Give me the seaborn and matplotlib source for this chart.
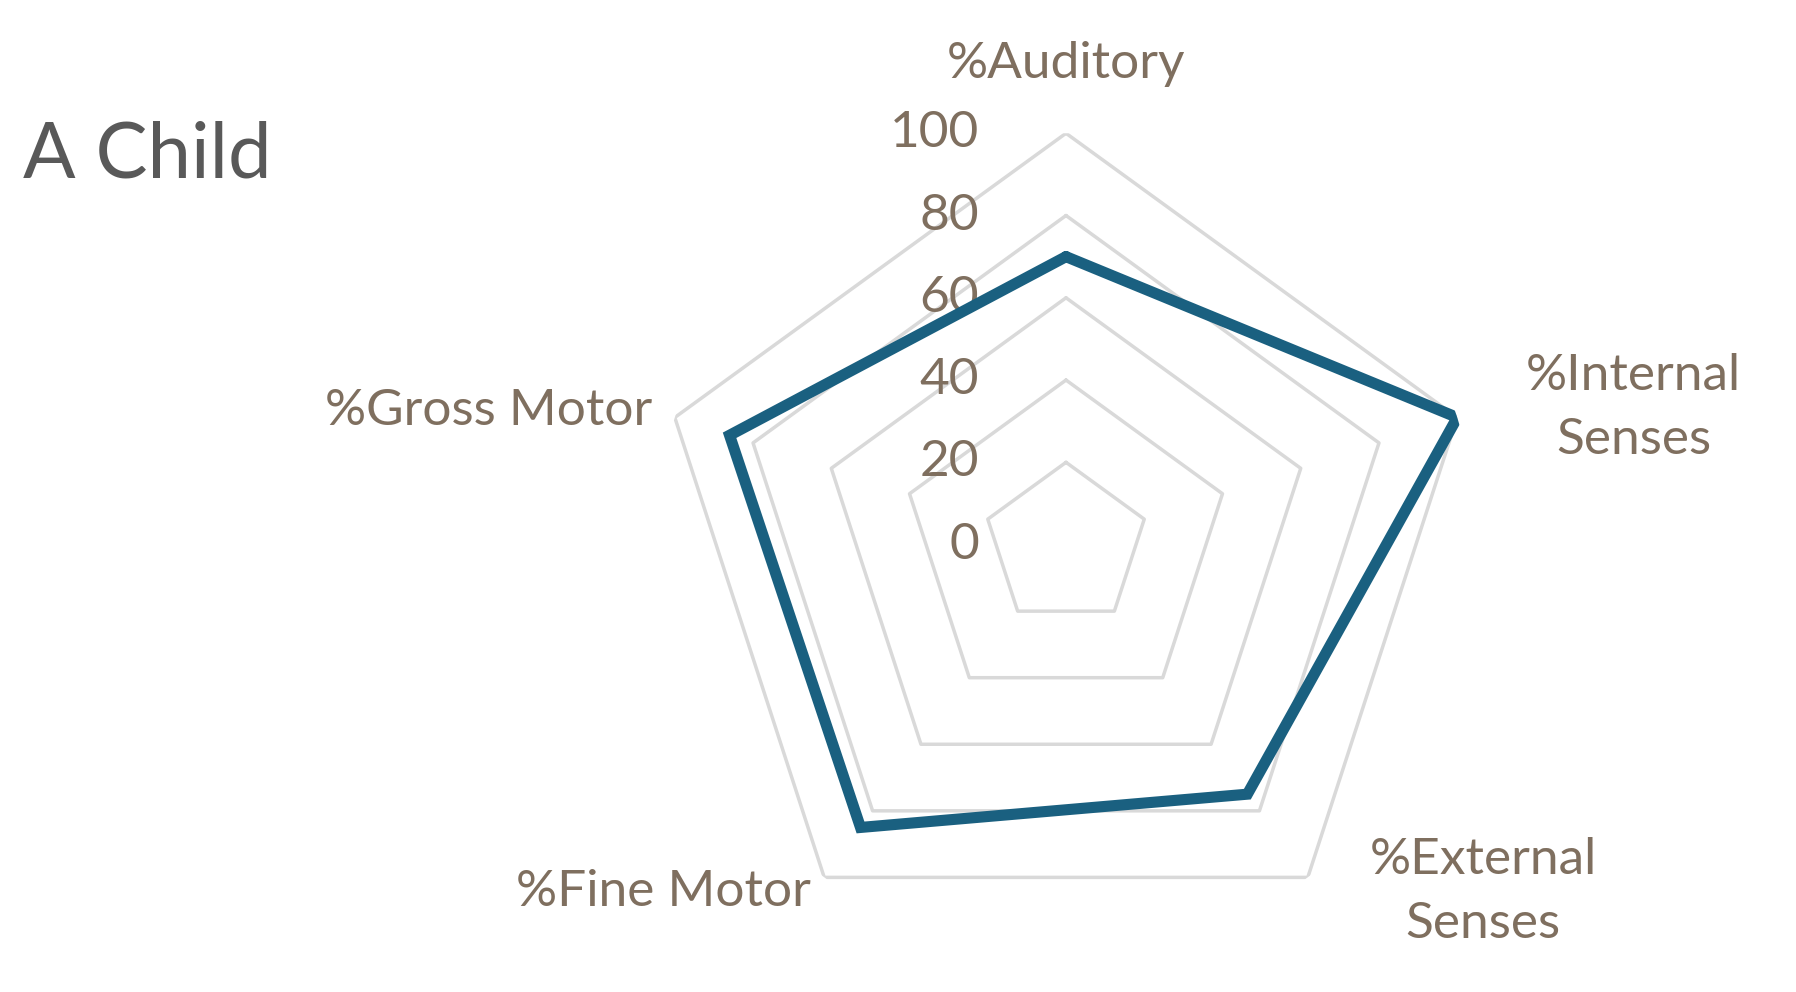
import numpy as np
import seaborn as sns
import matplotlib.pyplot as plt
import matplotlib.transforms as mtransforms

categories = ["%Auditory", "%Internal\nSenses", "%External\nSenses", "%Fine Motor", "%Gross Motor"]
values = [70, 100, 75, 85, 86]
rings = [20, 40, 60, 80, 100]
tick_labels = [0, 20, 40, 60, 80, 100]

sns.set_style("white")
plt.rcParams["font.family"] = ["Lato", "DejaVu Sans"]

S = 1796 / 1550  # reference coords were read at 1550 px width

fig = plt.figure(figsize=(17.96, 9.92), dpi=100)
cx, cy, rad = 920 * S, 470 * S, 355 * S
ax = fig.add_axes([(cx - rad) / 1796, (992 - cy - rad) / 992, 2 * rad / 1796, 2 * rad / 992],
                  projection="polar")
ax.set_theta_offset(np.pi / 2)
ax.set_theta_direction(-1)
ax.set_ylim(0, 100)
ax.grid(False)
ax.spines["polar"].set_visible(False)
ax.set_xticks([])
ax.set_yticks([])
ax.patch.set_alpha(0)

theta = np.linspace(0, 2 * np.pi, len(categories), endpoint=False)
tc = np.append(theta, theta[0])

for r in rings:
    ax.plot(tc, [r] * len(tc), color="#d9d9d9", lw=2.5, zorder=1)

ax.plot(tc, values + values[:1], color="#1a6080", lw=8, solid_joinstyle="miter", zorder=3)

lab_col = "#7f6f5f"
fs = 37
off = mtransforms.offset_copy(ax.transData, fig=fig, x=-75 * S, y=0, units="dots")
for v in tick_labels:
    ax.text(0, v, str(v), transform=off, ha="right", va="center", fontsize=fs, color=lab_col, zorder=2)

pos = [(920, 55, "center"), (1410, 352, "center"), (1280, 770, "center"),
       (700, 770, "right"), (563, 355, "right")]
for (x, y, ha), c in zip(pos, categories):
    fig.text(x * S / 1796, 1 - y * S / 992, c, ha=ha, va="center", fontsize=fs, color=lab_col,
             linespacing=1.5)

fig.text(20 * S / 1796, 1 - 135 * S / 992, "A Child", ha="left", va="center", fontsize=56, color="#595959")

fig.savefig("out.png", dpi=100)
